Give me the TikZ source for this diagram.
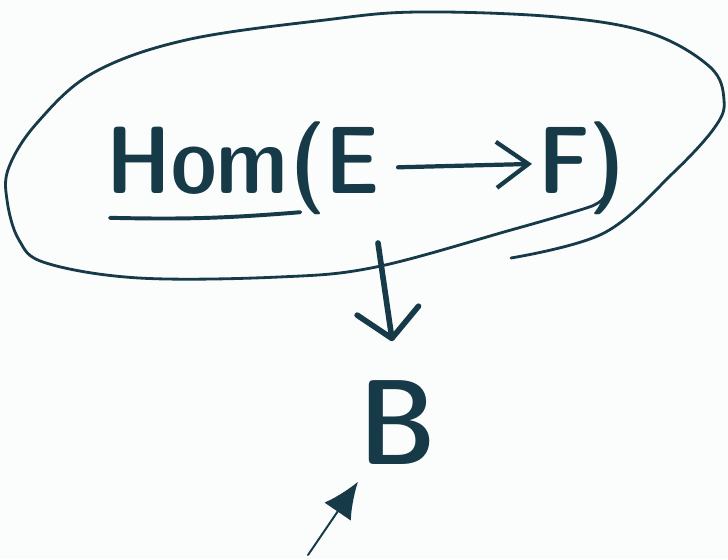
\documentclass[tikz,border=0pt]{standalone}
\usepackage{tikz}
\usetikzlibrary{arrows.meta}
\definecolor{ink}{RGB}{22,58,71}
\definecolor{paper}{RGB}{251,252,252}

\begin{document}
\begin{tikzpicture}[x=0.025cm,y=-0.025cm,
    pen/.style={draw=ink,line width=2pt,line cap=round,line join=round},
    word/.style={text=ink,inner sep=0pt,font=\fontsize{68}{68}\sffamily\fontseries{sbc}\selectfont}]
    \fill[paper] (0,0) rectangle (728,559);
    \useasboundingbox (0,0) rectangle (728,559);

    \node[word,anchor=base west] (hom) at (106,193) {Hom};
    \node[word,anchor=base west] (src) at (290,193) {(E};
    \node[word,anchor=base west] (tgt) at (538,193) {F)};
    \node[word,font=\fontsize{86}{86}\sffamily\fontseries{sbc}\selectfont] (base) at (398,423) {B};
    \coordinate (fibre) at (378,243);
    \coordinate (ptr) at (308,555);

    \draw[pen,line width=2.8pt] ([xshift=0.1cm,yshift=-0.62cm]hom.base west) to[bend right=3] ([xshift=0.3cm,yshift=-0.48cm]hom.base east);
    \draw[pen,line width=3pt,-{Straight Barb[length=0.8cm,width=1.15cm]},shorten <=0.45cm,shorten >=0.15cm] (src.east) -- ([yshift=0.1cm]tgt.west);

    \draw[pen] plot[smooth,tension=0.6] coordinates {(511,258) (604,233) (673,173) (715,127) (724,100) (710,67) (650,33) (557,17) (418,12) (325,20) (186,40) (93,73) (37,123) (9,167) (7,200) (19,240) (46,263) (139,278) (279,277) (376,267) (511,230) (580,210) (598,203) (605,196)};

    \draw[pen,line width=4pt,-{Straight Barb[length=0.7cm,width=1.55cm,round]},shorten >=1cm] (fibre) -- (base.north);
    \draw[pen,line width=1.4pt,-{Latex[length=0.9cm,width=0.8cm]},shorten >=0.5cm] (ptr) -- (base);
\end{tikzpicture}
\end{document}
